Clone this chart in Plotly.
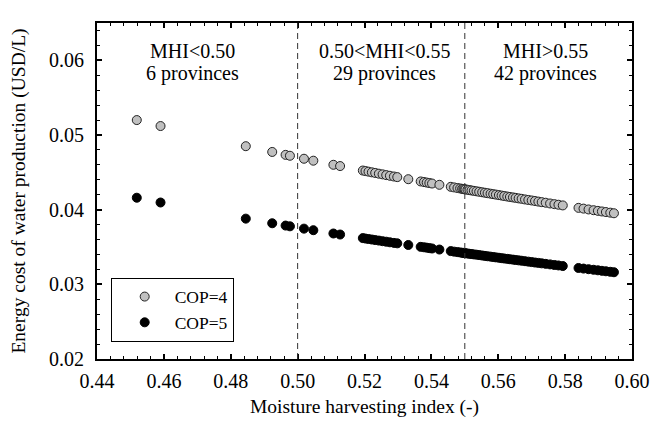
import plotly.graph_objects as go

# Moisture harvesting index of provinces
mhi = [0.4519, 0.4590, 0.4845, 0.4924, 0.4964, 0.4977,
       0.5019, 0.5047, 0.5107, 0.5127, 0.5195, 0.5203, 0.5212, 0.5222, 0.5232, 0.5243,
       0.5254, 0.5265, 0.5276, 0.5288, 0.5298, 0.5331, 0.5368, 0.5378, 0.5386, 0.5394,
       0.5402, 0.5424, 0.5458, 0.5468, 0.5478, 0.5486, 0.5492, 0.5496, 0.5499,
       0.5502, 0.5508, 0.5514, 0.5520, 0.5527, 0.5535, 0.5543, 0.5552, 0.5560, 0.5568,
       0.5577, 0.5585, 0.5593, 0.5602, 0.5610, 0.5618, 0.5627, 0.5635, 0.5644, 0.5652,
       0.5661, 0.5670, 0.5680, 0.5690, 0.5700, 0.5710, 0.5720, 0.5730, 0.5742, 0.5755,
       0.5768, 0.5780, 0.5793, 0.5840, 0.5855, 0.5870, 0.5885, 0.5898, 0.5910, 0.5922,
       0.5935, 0.5946]

cost_cop4 = [0.05200, 0.05120, 0.04850, 0.04773, 0.04734, 0.04722,
             0.04682, 0.04656, 0.04601, 0.04584, 0.04524, 0.04517, 0.04509, 0.04500, 0.04492, 0.04482,
             0.04473, 0.04463, 0.04454, 0.04444, 0.04436, 0.04408, 0.04378, 0.04370, 0.04363, 0.04357,
             0.04350, 0.04333, 0.04306, 0.04298, 0.04290, 0.04284, 0.04279, 0.04276, 0.04273,
             0.04271, 0.04267, 0.04262, 0.04257, 0.04252, 0.04246, 0.04240, 0.04233, 0.04227, 0.04221,
             0.04214, 0.04208, 0.04202, 0.04195, 0.04189, 0.04183, 0.04176, 0.04170, 0.04164, 0.04158,
             0.04151, 0.04145, 0.04137, 0.04130, 0.04123, 0.04116, 0.04108, 0.04101, 0.04093, 0.04083,
             0.04074, 0.04066, 0.04057, 0.04024, 0.04014, 0.04003, 0.03993, 0.03984, 0.03976, 0.03968,
             0.03960, 0.03952]

cost_cop5 = [0.04160, 0.04096, 0.03880, 0.03818, 0.03787, 0.03777,
             0.03746, 0.03725, 0.03681, 0.03667, 0.03619, 0.03613, 0.03607, 0.03600, 0.03593, 0.03586,
             0.03578, 0.03571, 0.03563, 0.03555, 0.03549, 0.03527, 0.03502, 0.03496, 0.03491, 0.03485,
             0.03480, 0.03466, 0.03445, 0.03438, 0.03432, 0.03427, 0.03423, 0.03421, 0.03419,
             0.03417, 0.03413, 0.03409, 0.03406, 0.03401, 0.03397, 0.03392, 0.03386, 0.03381, 0.03376,
             0.03371, 0.03366, 0.03361, 0.03356, 0.03351, 0.03346, 0.03341, 0.03336, 0.03331, 0.03326,
             0.03321, 0.03316, 0.03310, 0.03304, 0.03298, 0.03292, 0.03287, 0.03281, 0.03274, 0.03267,
             0.03259, 0.03253, 0.03245, 0.03219, 0.03211, 0.03203, 0.03195, 0.03188, 0.03181, 0.03175,
             0.03168, 0.03162]

series_names = ["COP=4", "COP=5"]
thresholds = [0.50, 0.55]
region_titles = ["MHI<0.50", "0.50<MHI<0.55", "MHI>0.55"]
region_counts = ["6 provinces", "29 provinces", "42 provinces"]
region_label_x = [0.4687, 0.5260, 0.5741]
region_title_y = 0.0613
region_count_y = 0.0583

FONT = "Liberation Serif, Times New Roman, serif"

fig = go.Figure()
fig.add_trace(go.Scatter(x=mhi, y=cost_cop4, mode="markers", name=series_names[0],
                         marker=dict(size=9, color="#c0c0c0", line=dict(color="#222222", width=1))))
fig.add_trace(go.Scatter(x=mhi, y=cost_cop5, mode="markers", name=series_names[1],
                         marker=dict(size=9, color="black", line=dict(color="black", width=1))))

for t in thresholds:
    fig.add_shape(type="line", x0=t, x1=t, y0=0, y1=1, xref="x", yref="paper",
                  line=dict(color="#333333", width=1, dash="6px,4px"))

for title, count, xx in zip(region_titles, region_counts, region_label_x):
    fig.add_annotation(x=xx, y=region_title_y, text=title, showarrow=False,
                       font=dict(family=FONT, size=20, color="black"))
    fig.add_annotation(x=xx, y=region_count_y, text=count, showarrow=False,
                       font=dict(family=FONT, size=20, color="black"))

axis_common = dict(showline=True, linecolor="black", linewidth=2, mirror="ticks",
                   ticks="inside", ticklen=5, tickwidth=1.5, tickcolor="black",
                   showgrid=False, zeroline=False, automargin=False,
                   tickfont=dict(family=FONT, size=20, color="black"))

fig.update_xaxes(range=[0.44, 0.60], dtick=0.02, tickformat=".2f",
                 minor=dict(dtick=0.004, ticks="inside", ticklen=3, tickcolor="black", tickwidth=1),
                 title=dict(text="Moisture harvesting index (-)", font=dict(family=FONT, size=19.5, color="black"), standoff=8),
                 ticklabelstandoff=3,
                 **axis_common)
fig.update_yaxes(range=[0.02, 0.065], dtick=0.01, tickformat=".2f",
                 minor=dict(dtick=0.002, ticks="inside", ticklen=3, tickcolor="black", tickwidth=1),
                 title=dict(text="Energy cost of water production (USD/L)", font=dict(family=FONT, size=19.5, color="black"), standoff=18),
                 ticklabelstandoff=7,
                 **axis_common)

fig.update_layout(
    width=651, height=425,
    margin=dict(l=97, r=19, t=23, b=66),
    plot_bgcolor="white", paper_bgcolor="white",
    font=dict(family=FONT, color="black"),
    legend=dict(x=0.0256, y=0.0515, xanchor="left", yanchor="bottom",
                bordercolor="black", borderwidth=1, bgcolor="white",
                font=dict(family=FONT, size=17.5, color="black"),
                indentation=3, itemwidth=50, tracegroupgap=0),
    showlegend=True,
)

fig.write_html("out.html", config={"displayModeBar": False},
               post_script="document.body.style.margin='0';document.body.style.overflow='hidden';")
